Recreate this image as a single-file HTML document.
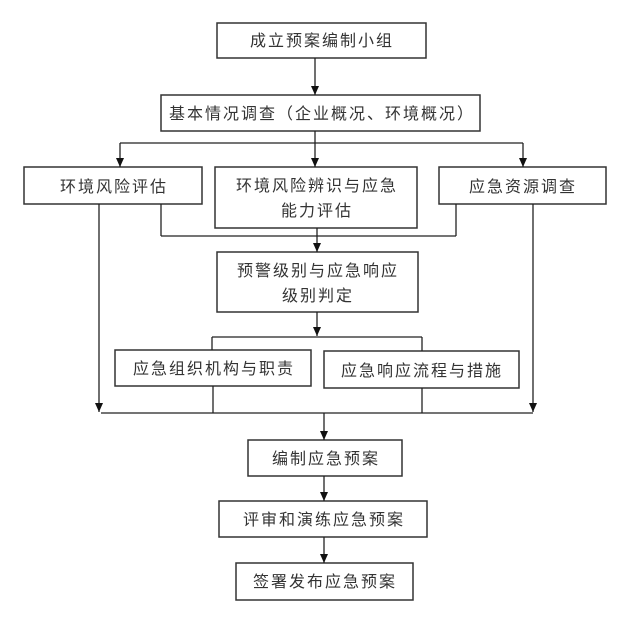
<!DOCTYPE html>
<html><head><meta charset="utf-8"><style>
html,body{margin:0;padding:0;background:#fff;}
svg text{font-family:"Liberation Sans","Noto Sans CJK SC",sans-serif;font-size:16px;letter-spacing:2px;fill:#333;text-anchor:middle;}
</style></head><body>
<svg width="617" height="624" viewBox="0 0 617 624" xmlns="http://www.w3.org/2000/svg">
<defs><marker id="a" markerWidth="10" markerHeight="8" refX="9" refY="4" orient="auto" markerUnits="userSpaceOnUse"><path d="M0,0 L9,4 L0,8 z" fill="#111"/></marker></defs>
<g fill="none" stroke="#333" stroke-width="1.5">
<rect x="217" y="23" width="209" height="35"/>
<rect x="161" y="95" width="319" height="36"/>
<rect x="24" y="167" width="178" height="37"/>
<rect x="215" y="167" width="202" height="61"/>
<rect x="439" y="167" width="167" height="37"/>
<rect x="217" y="252" width="201" height="60"/>
<rect x="115" y="350" width="196" height="36"/>
<rect x="324" y="351" width="195" height="37"/>
<rect x="248" y="440" width="154" height="36"/>
<rect x="219" y="501" width="208" height="36"/>
<rect x="236" y="563" width="177" height="37"/>
</g>
<g fill="none" stroke="#222" stroke-width="1.3">
<line x1="315" y1="58" x2="315" y2="95" marker-end="url(#a)"/>
<line x1="315" y1="131" x2="315" y2="143"/>
<line x1="120" y1="143" x2="523" y2="143"/>
<line x1="120" y1="143" x2="120" y2="167" marker-end="url(#a)"/>
<line x1="315" y1="143" x2="315" y2="167" marker-end="url(#a)"/>
<line x1="523" y1="143" x2="523" y2="167" marker-end="url(#a)"/>
<line x1="161" y1="204" x2="161" y2="236"/>
<line x1="456" y1="204" x2="456" y2="236"/>
<line x1="161" y1="236" x2="456" y2="236"/>
<line x1="317" y1="228" x2="317" y2="252" marker-end="url(#a)"/>
<line x1="99" y1="204" x2="99" y2="412" marker-end="url(#a)"/>
<line x1="533" y1="204" x2="533" y2="412" marker-end="url(#a)"/>
<line x1="317" y1="312" x2="317" y2="336" marker-end="url(#a)"/>
<line x1="212" y1="337" x2="422" y2="337"/>
<line x1="212" y1="337" x2="212" y2="350"/>
<line x1="422" y1="337" x2="422" y2="351"/>
<line x1="213" y1="386" x2="213" y2="413"/>
<line x1="422" y1="388" x2="422" y2="413"/>
<line x1="101" y1="413" x2="533" y2="413"/>
<line x1="324" y1="413" x2="324" y2="440" marker-end="url(#a)"/>
<line x1="324" y1="476" x2="324" y2="501" marker-end="url(#a)"/>
<line x1="324" y1="537" x2="324" y2="563" marker-end="url(#a)"/>
</g>
<text x="322" y="46">成立预案编制小组</text>
<text x="322" y="119">基本情况调查（企业概况、环境概况）</text>
<text x="114" y="192">环境风险评估</text>
<text x="317" y="191">环境风险辨识与应急</text>
<text x="317" y="216">能力评估</text>
<text x="523" y="192">应急资源调查</text>
<text x="318" y="276">预警级别与应急响应</text>
<text x="318" y="301">级别判定</text>
<text x="214" y="374">应急组织机构与职责</text>
<text x="422" y="376">应急响应流程与措施</text>
<text x="326" y="464">编制应急预案</text>
<text x="324" y="525">评审和演练应急预案</text>
<text x="325" y="587">签署发布应急预案</text>
</svg>
</body></html>
